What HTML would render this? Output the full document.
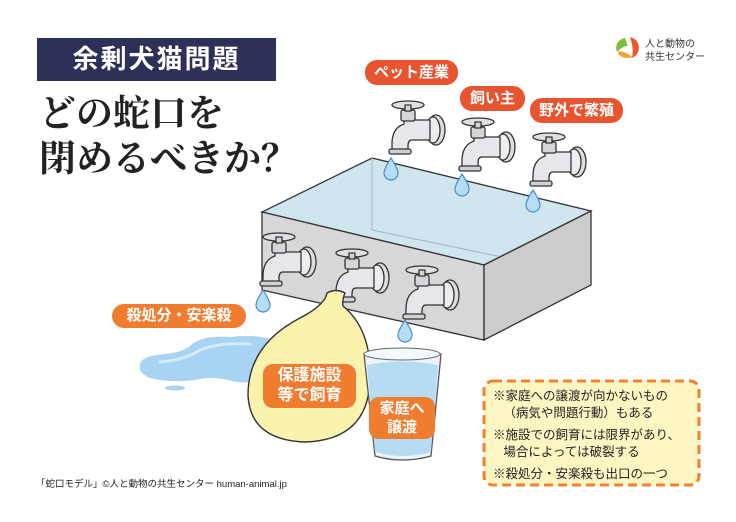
<!DOCTYPE html>
<html><head><meta charset="utf-8"><style>
body{margin:0;background:#fff;}
.w{position:relative;width:736px;height:522px;overflow:hidden;font-family:"Liberation Sans","Noto Sans CJK JP",sans-serif;}
.pill{position:absolute;color:#fff;font-weight:bold;text-align:center;border-radius:12px;white-space:nowrap;}
.red{background:#e8542f;font-size:15px;height:25px;line-height:25px;}
.org{background:#f07c30;}
</style></head><body><div class="w">
<svg width="736" height="522" style="position:absolute;left:0;top:0">
<defs>
<g id="fc" stroke="#333" stroke-width="1.3" stroke-linejoin="round">
 <ellipse cx="50" cy="30" rx="9" ry="15" fill="#dcdde0"/>
 <ellipse cx="47" cy="30" rx="7" ry="13" fill="#eceef0"/>
 <path d="M18 20 H44 V40 H26 Q22 40 22 46 V50 H6 V44 Q6 28 18 24 Z" fill="#e6e7ea"/>
 <rect x="3" y="49" width="22" height="5" rx="2" fill="#cfd0d3"/>
 <rect x="15" y="10" width="14" height="11" rx="2" fill="#d5d6d9"/>
 <ellipse cx="22" cy="5" rx="16" ry="4" fill="#dfe0e3"/>
 <rect x="19" y="5" width="6" height="6" fill="#d5d6d9"/>
</g>
<path id="dr" d="M0 0 Q7 11 7 15 A7 7 0 0 1 -7 15 Q-7 11 0 0Z" fill="#b7dcf5" stroke="#4a8fd0" stroke-width="1.2"/>
</defs>
<!-- tank -->
<polygon points="372,158 591,211 484,265 262,212" fill="#d0e6ef" stroke="#333" stroke-width="1.3"/>
<polyline points="372,158 372,230 555,268" fill="none" stroke="#9fb7c2" stroke-width="1"/>
<polygon points="262,212 484,265 484,340 262,290" fill="#d8d7d7" stroke="#333" stroke-width="1.3"/>
<polygon points="484,265 591,211 591,285 484,340" fill="#cdcccc" stroke="#333" stroke-width="1.3"/>
<!-- top faucets -->
<use href="#fc" x="386" y="100"/><use href="#dr" x="391" y="158"/>
<use href="#fc" x="456" y="117"/><use href="#dr" x="462" y="174"/>
<use href="#fc" x="527" y="132"/><use href="#dr" x="533" y="190"/>
<!-- front faucets -->
<use href="#fc" x="257" y="232"/><use href="#dr" x="263" y="290"/>
<use href="#fc" x="330" y="248"/>
<use href="#fc" x="400" y="265"/><use href="#dr" x="405" y="320"/>
<!-- puddle -->
<path d="M140 365 Q140 356 165 354 Q185 352 192 344 Q205 335 230 337 Q255 334 275 340 L265 382 Q240 384 228 380 Q210 376 195 380 Q170 383 150 378 Q138 373 140 365Z" fill="#a9d3f2"/>
<path d="M160 362 Q185 360 200 350 Q220 342 250 344" fill="none" stroke="#d2ebfa" stroke-width="3" stroke-linecap="round"/>
<ellipse cx="175" cy="388" rx="10" ry="2.5" fill="#a9d3f2"/>
<!-- bag -->
<path d="M327 293 Q336 288 345 293 Q342 300 343 306 Q372 330 370 380 Q368 440 305 442 Q250 440 248 395 Q248 345 300 318 Q325 305 327 293Z" fill="#fbf2ae" stroke="#333" stroke-width="1.4"/>
<!-- glass -->
<path d="M364 354 Q402 344 441 354 L431 456 Q403 464 375 456Z" fill="#ebf4fa" stroke="#555" stroke-width="1.3"/>
<path d="M367 365 Q402 358 438 365 L431 452 Q403 460 375 452Z" fill="#b5dcf3"/>
<ellipse cx="402" cy="354" rx="38" ry="6" fill="#f3f8fb" stroke="#666" stroke-width="1"/>
<!-- note box -->
<rect x="484" y="381" width="215" height="104" rx="9" fill="#fdf5c2" stroke="#f0822f" stroke-width="3" stroke-dasharray="9 5"/>
<!-- logo -->
<path d="M625 38 A10 10 0 0 0 617 52 Q624 45 628 46Z" fill="#7bbf3a"/>
<path d="M630 37 A11 11 0 0 1 632 58 Q634 48 630 37Z" fill="#ee5a27"/>
<path d="M618 54 Q624 60 633 57 Q626 52 619 51Z" fill="#f5a23a"/>
</svg>
<div style="position:absolute;left:37px;top:38px;width:239px;height:43px;background:#2d3057;color:#fff;font-weight:bold;font-size:26px;line-height:43px;text-align:center;letter-spacing:2px">余剰犬猫問題</div>
<div style="position:absolute;left:39px;top:88px;font-family:'Noto Serif CJK SC','Liberation Serif',serif;font-size:37px;line-height:45px;color:#222;font-weight:bold">どの蛇口を<br>閉めるべきか？</div>
<div style="position:absolute;left:645px;top:38px;font-size:10px;line-height:13px;color:#333">人と動物の<br>共生センター</div>
<div class="pill red" style="left:365px;top:60px;width:93px">ペット産業</div>
<div class="pill red" style="left:460px;top:86px;width:65px">飼い主</div>
<div class="pill red" style="left:530px;top:98px;width:93px">野外で繁殖</div>
<div class="pill org" style="left:112px;top:304px;width:134px;height:24px;line-height:24px;font-size:15px">殺処分・安楽殺</div>
<div class="pill org" style="left:263px;top:364px;width:93px;height:44px;line-height:20px;font-size:16px;padding-top:2px;box-sizing:border-box;border-radius:10px">保護施設<br>等で飼育</div>
<div class="pill org" style="left:369px;top:397px;width:66px;height:42px;line-height:19px;font-size:15px;padding-top:2px;box-sizing:border-box;border-radius:10px">家庭へ<br>譲渡</div>
<div style="position:absolute;left:493px;top:388px;font-size:12.5px;line-height:17px;color:#222;white-space:nowrap">※家庭への譲渡が向かないもの<br>&nbsp;&nbsp;&nbsp;（病気や問題行動）もある<div style="height:5px"></div>※施設での飼育には限界があり、<br>&nbsp;&nbsp;&nbsp;場合によっては破裂する<div style="height:5px"></div>※殺処分・安楽殺も出口の一つ</div>
<div style="position:absolute;left:36px;top:476px;font-size:9.5px;color:#222;white-space:nowrap">「蛇口モデル」©人と動物の共生センター human-animal.jp</div>
</div></body></html>
